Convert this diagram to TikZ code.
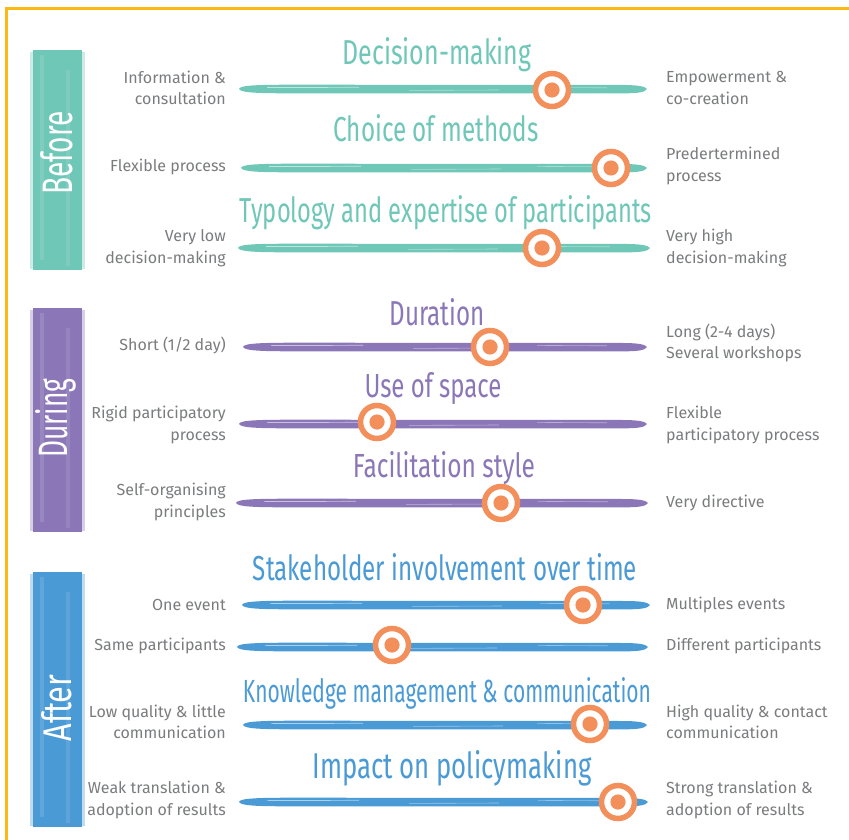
\documentclass[tikz,border=0pt]{standalone}
\usepackage{fontspec}
\setmainfont{Fira Sans}
\usepackage{graphicx}
\definecolor{frame}{HTML}{FDB913}
\definecolor{teal}{HTML}{6FC7B8}
\definecolor{purp}{HTML}{8B77B8}
\definecolor{blu}{HTML}{4A9AD5}
\definecolor{orng}{HTML}{F28F5A}
\definecolor{txt}{HTML}{7B7C7E}
% brush stroke: #1 name, #2 colour, #3 x0, #4 x1, #5 y
\newcommand\brushline[5]{%
  \coordinate (#1-l) at (#3,#5);
  \coordinate (#1-r) at (#4,#5);
  \fill[#2] (#1-l) .. controls (#3+1,#5-4) and (#3+20,#5-4.3) .. (#3+60,#5-4.3)
     -- (#4-22,#5-4) .. controls (#4-8,#5-3.8) and (#4-2,#5-2.5) .. (#1-r)
     .. controls (#4-2,#5+3) and (#4-8,#5+4.3) .. (#4-22,#5+4.3)
     -- (#3+50,#5+4.3) .. controls (#3+15,#5+4.3) and (#3+2,#5+3.5) .. (#1-l) -- cycle;
  \draw[white, opacity=.55, line width=.7pt] (#3+28,#5-1.4) -- (#3+120,#5-1.7);
  \draw[white, opacity=.45, line width=.6pt] (#3+170,#5+1.4) -- (#3+260,#5+1.0);
  \draw[white, opacity=.4, line width=.6pt] (#4-110,#5-1.6) -- (#4-40,#5-1.2);
}
\tikzset{
  lbl/.style={text=txt, inner sep=0pt, font=\fontsize{16pt}{21.5pt}\selectfont},
  lleft/.style={lbl, anchor=east, align=right},
  lright/.style={lbl, anchor=west, align=left},
  head/.style={anchor=base, inner sep=0pt},
  knob/.style={circle, draw=orng, line width=5.5pt, fill=white, minimum size=33pt, inner sep=0pt,
     path picture={\fill[orng] (path picture bounding box.center) circle (7.6pt);}},
  barlbl/.style={rotate=90, text=white, inner sep=0pt},
}
\newcommand\hd[3]{\resizebox{#1pt}{#2pt}{#3}}
\begin{document}
\begin{tikzpicture}[x=1pt,y=-1pt]
\useasboundingbox (0,0) rectangle (849,840);
\fill[white] (0,0) rectangle (849,840);
% frame (open to the right and bottom)
\draw[frame, line width=3pt] (6,860) -- (6,9) -- (860,9);

% ---------- side bars ----------
\foreach \c/\ya/\yb in {teal/50/270, purp/308/532, blu/572/827}{
  \fill[\c, opacity=.35] (30,\ya+2) rectangle (85,\yb-1);
  \fill[\c] (33,\ya) rectangle (82,\yb);
  \fill[white, opacity=.12] (40,\ya+5) rectangle (44,\yb-10);
  \fill[white, opacity=.10] (66,\ya+20) rectangle (70,\yb-4);
}
\node[barlbl] (before) at (57,153) {\hd{83}{32}{Before}};
\node[barlbl] (during) at (56,418) {\hd{79}{32}{During}};
\node[barlbl] (after)  at (57,708) {\hd{67}{30}{After}};

% ---------- BEFORE ----------
\node[head, text=teal] (h1) at (437,65) {\hd{189}{27}{Decision-making}};
\brushline{s1}{teal}{239}{647}{89}
\node[knob] (k1) at (552,90) {};
\node[lleft] (l1) at (226,88) {Information \&\\consultation};
\node[lright] (r1) at (666,88) {Empowerment \&\\co-creation};

\node[head, text=teal] (h2) at (436,142) {\hd{205}{27}{Choice of methods}};
\brushline{s2}{teal}{241}{647}{168}
\node[knob] (k2) at (611,168) {};
\node[lleft] (l2) at (226,167) {Flexible process};
\node[lright] (r2) at (666,166) {Predertermined\\process};

\node[head, text=teal] (h3) at (446,222) {\hd{412}{27}{Typology and expertise of participants}};
\brushline{s3}{teal}{238}{650}{248}
\node[knob] (k3) at (542,248) {};
\node[lleft] (l3) at (226,248) {Very low\\decision-making};
\node[lright] (r3) at (666,248) {Very high\\decision-making};

% ---------- DURING ----------
\node[head, text=purp] (h4) at (437,325) {\hd{95}{27}{Duration}};
\brushline{s4}{purp}{243}{647}{347}
\node[knob] (k4) at (490,347) {};
\node[lleft] (l4) at (226,345) {Short (1/2 day)};
\node[lright] (r4) at (666,343) {Long (2-4 days)\\Several workshops};

\node[head, text=purp] (h5) at (433,397) {\hd{137}{25}{Use of space}};
\brushline{s5}{purp}{239}{647}{424}
\node[knob] (k5) at (377,422) {};
\node[lleft] (l5) at (226,425) {Rigid participatory\\process};
\node[lright] (r5) at (666,425) {Flexible\\participatory process};

\node[head, text=purp] (h6) at (444,477) {\hd{182}{26}{Facilitation style}};
\brushline{s6}{purp}{236}{648}{503}
\node[knob] (k6) at (501,503) {};
\node[lleft] (l6) at (226,502) {Self-organising\\principles};
\node[lright] (r6) at (666,503) {Very directive};

% ---------- AFTER ----------
\node[head, text=blu] (h7) at (445,580) {\hd{384}{27}{Stakeholder involvement over time}};
\brushline{s7}{blu}{242}{650}{605}
\node[knob] (k7) at (583,605) {};
\node[lleft] (l7) at (226,605) {One event};
\node[lright] (r7) at (666,605) {Multiples events};

\brushline{s8}{blu}{237}{648}{647}
\node[knob] (k8) at (392,645) {};
\node[lleft] (l8) at (226,646) {Same participants};
\node[lright] (r8) at (666,646) {Different participants};

\node[head, text=blu] (h9) at (447,702) {\hd{408}{25}{Knowledge management \& communication}};
\brushline{s9}{blu}{243}{647}{725}
\node[knob] (k9) at (590,724) {};
\node[lleft] (l9) at (226,722) {Low quality \& little\\communication};
\node[lright] (r9) at (666,722) {High quality \& contact\\communication};

\node[head, text=blu] (h10) at (452,778) {\hd{279}{28}{Impact on policymaking}};
\brushline{s10}{blu}{239}{648}{802}
\node[knob] (k10) at (618,802) {};
\node[lleft] (l10) at (226,800) {Weak translation \&\\adoption of results};
\node[lright] (r10) at (666,800) {Strong translation \&\\adoption of results};
\end{tikzpicture}
\end{document}
